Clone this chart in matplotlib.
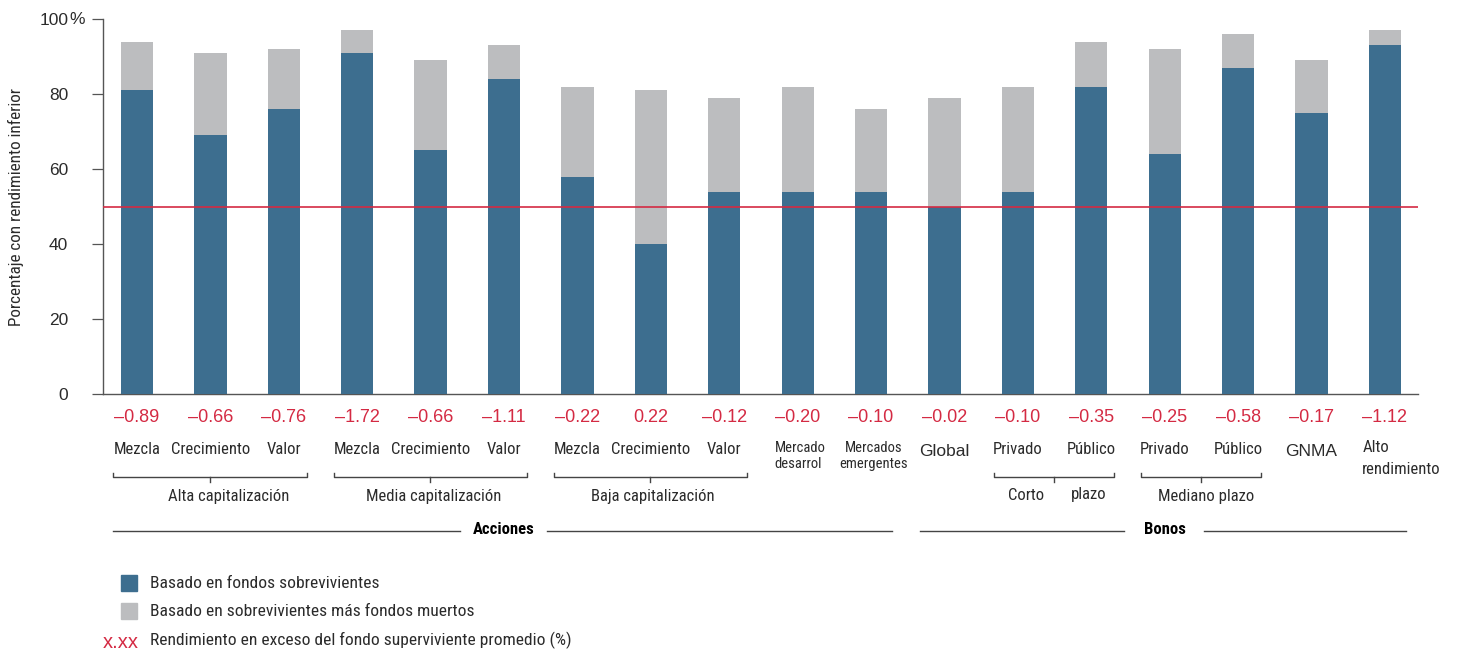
import matplotlib
matplotlib.use("Agg")
import matplotlib.pyplot as plt
import matplotlib.transforms as mtransforms
from matplotlib.patches import Rectangle
from matplotlib.lines import Line2D

# ---- data ----
categories = ["Mezcla", "Crecimiento", "Valor",
              "Mezcla", "Crecimiento", "Valor",
              "Mezcla", "Crecimiento", "Valor",
              "Mercado\ndesarrol", "Mercados\nemergentes",
              "Global", "Privado", "Público", "Privado", "Público",
              "GNMA", "Alto\nrendimiento"]
survivors = [81, 69, 76, 91, 65, 84, 58, 40, 54, 54, 54, 50, 54, 82, 64, 87, 75, 93]
with_dead = [94, 91, 92, 97, 89, 93, 82, 81, 79, 82, 76, 79, 82, 94, 92, 96, 89, 97]
excess_return = ["–0.89", "–0.66", "–0.76", "–1.72", "–0.66", "–1.11",
                 "–0.22", "0.22", "–0.12", "–0.20", "–0.10", "–0.02",
                 "–0.10", "–0.35", "–0.25", "–0.58", "–0.17", "–1.12"]
yticks = [0, 20, 40, 60, 80, 100]
ytick_labels = ["0", "20", "40", "60", "80", "100"]
subgroups = ["Alta capitalización", "Media capitalización", "Baja capitalización",
             "Corto plazo", "Mediano plazo"]
subgroup_span = [(0, 2), (3, 5), (6, 8), (12, 13), (14, 15)]
asset_classes = ["Acciones", "Bonos"]
asset_span = [(0, 10), (11, 17)]
reference_level = 50

BLUE = "#3d6e8f"
GREY = "#bcbdbf"
RED = "#d42a43"
INK = "#2b2b2b"
RULE = "#444444"
NARROW = ["Roboto Condensed", "DejaVu Sans"]
REGULAR = ["Liberation Sans", "DejaVu Sans"]

W, H = 1459, 654
fig = plt.figure(figsize=(W / 100, H / 100), dpi=100)
ax = fig.add_axes([103 / W, 1 - 394 / H, 1315 / W, 375 / H])

x = list(range(len(categories)))
bw = 0.44
ax.bar(x, with_dead, width=bw, color=GREY, zorder=2)
ax.bar(x, survivors, width=bw, color=BLUE, zorder=3)
ax.axhline(reference_level, color=RED, lw=1.2, zorder=4)

ax.set_xlim(-0.463, 17.45)
ax.set_ylim(0, 100)
for s in ["top", "right"]:
    ax.spines[s].set_visible(False)
for s in ["left", "bottom"]:
    ax.spines[s].set_color("#555555")
    ax.spines[s].set_linewidth(1.0)
ax.set_xticks([])
ax.set_yticks(yticks)
ax.set_yticklabels(ytick_labels, fontfamily=REGULAR, fontsize=12.5, color=INK)
ax.tick_params(axis="y", length=8, width=0.9, color="#555555", pad=17)


def fy(ypx):
    return 1 - ypx / H


def fx(xpx):
    return xpx / W


# percent sign trailing the top tick label
fig.text(fx(69), fy(19), "%", fontsize=12.5, family=REGULAR, color=INK,
         ha="left", va="center")
ax.set_ylabel("Porcentaje con rendimiento inferior", family=NARROW,
              fontsize=12.3, color=INK)
ax.yaxis.set_label_coords(-(103 - 24) / 1315, 0.5)

# x in data units, y in figure coordinates
tr = mtransforms.blended_transform_factory(ax.transData, fig.transFigure)

for i, (lab, val) in enumerate(zip(categories, excess_return)):
    ax.text(i, fy(418), val, transform=tr, ha="center", va="center",
            color=RED, fontsize=13, family=REGULAR)
    if lab in ("Global", "GNMA"):
        ax.text(i, fy(451), lab, transform=tr, ha="center", va="center",
                color=INK, fontsize=12.5, family=REGULAR)
    elif lab.startswith("Mercado"):
        ax.text(i + 0.03, fy(441), lab, transform=tr, ha="center", va="top",
                color=INK, fontsize=10.5, family=NARROW,
                multialignment="left" if lab.startswith("Mercado\n") else "center",
                linespacing=1.2)
    elif lab.startswith("Alto"):
        ax.text(i - 0.31, fy(440), lab, transform=tr, ha="left", va="top",
                color=INK, fontsize=12, family=NARROW, linespacing=1.6)
    else:
        ax.text(i, fy(449), lab, transform=tr, ha="center", va="center",
                color=INK, fontsize=12, family=NARROW)

# brackets under the sub-groups
label_shift = [0.26, 0.05, 0.03, 0.0, 0.07]
for name, (a, b), dx in zip(subgroups, subgroup_span, label_shift):
    x0, x1 = a - 0.32, b + 0.31
    xc = (x0 + x1) / 2
    yb = fy(477)
    fig.add_artist(Line2D([x0, x0, x1, x1], [fy(473), yb, yb, fy(473)],
                          transform=tr, color=RULE, lw=1.0, clip_on=False))
    fig.add_artist(Line2D([xc, xc], [yb, fy(482)], transform=tr,
                          color=RULE, lw=1.0, clip_on=False))
    if name == "Corto plazo":
        first, second = name.split()
        ax.text(a + 0.11, fy(495), first, transform=tr, ha="center", va="center",
                color=INK, fontsize=12, family=NARROW)
        ax.text(b - 0.03, fy(495), second, transform=tr, ha="center", va="center",
                color=INK, fontsize=12, family=NARROW)
    else:
        ax.text(xc + dx, fy(496), name, transform=tr,
                ha="center", va="center", color=INK, fontsize=12, family=NARROW)

# asset-class rules with centred titles
title_pos = [5.0, 14.0]
title_gap = [0.60, 0.55]
for name, (a, b), xc, g in zip(asset_classes, asset_span, title_pos, title_gap):
    x0, x1 = a - 0.33, b + 0.28
    fig.add_artist(Line2D([x0, xc - g], [fy(531), fy(531)], transform=tr,
                          color=RULE, lw=1.0, clip_on=False))
    fig.add_artist(Line2D([xc + g - 0.02, x1], [fy(531), fy(531)], transform=tr,
                          color=RULE, lw=1.0, clip_on=False))
    ax.text(xc, fy(530), name, transform=tr, ha="center", va="center",
            color="black", fontsize=12, family=NARROW, fontweight="bold")

# legend
fig.add_artist(Rectangle((fx(121), fy(591)), 16 / W, 16 / H,
                         transform=fig.transFigure, color=BLUE))
fig.add_artist(Rectangle((fx(121), fy(619)), 16 / W, 16 / H,
                         transform=fig.transFigure, color=GREY))
fig.text(fx(150), fy(583), "Basado en fondos sobrevivientes", ha="left",
         va="center", color=INK, fontsize=12.6, family=NARROW)
fig.text(fx(150), fy(611), "Basado en sobrevivientes más fondos muertos",
         ha="left", va="center", color=INK, fontsize=12.6, family=NARROW)
fig.text(fx(103), fy(642), "x.xx", ha="left", va="center", color=RED,
         fontsize=14.5, family=REGULAR)
fig.text(fx(150), fy(640),
         "Rendimiento en exceso del fondo superviviente promedio (%)",
         ha="left", va="center", color=INK, fontsize=12.6, family=NARROW)

fig.savefig("out.png", dpi=100, facecolor="white")
